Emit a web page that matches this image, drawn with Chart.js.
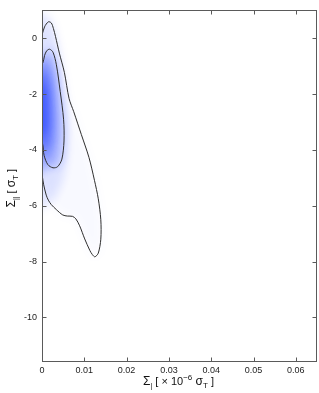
<!DOCTYPE html>
<html>
<head>
<meta charset="utf-8">
<script src="https://cdn.jsdelivr.net/npm/chart.js@4.4.1/dist/chart.umd.min.js"></script>
<style>
  html, body { margin: 0; padding: 0; background: #fff; }
  canvas { display: block; }
</style>
</head>
<body>
<canvas id="chart" width="319" height="393"></canvas>
<script>
// tick values
const xTicks = [0, 0.01, 0.02, 0.03, 0.04, 0.05, 0.06];
const yTicks = [-10, -8, -6, -4, -2, 0];

// contour lines, [x, y] pairs (points at x<0 get clipped by the axis)
const outerContour = [
  [-0.001, -0.2], [0.0, 0.12], [0.0006, 0.41], [0.0015, 0.59], [0.0022, 0.55],
  [0.0027, 0.35], [0.0032, 0.06], [0.0041, -0.53], [0.0053, -1.23], [0.0064, -2.16],
  [0.0075, -2.63], [0.0093, -3.45], [0.0111, -4.27], [0.0124, -5.09], [0.0133, -5.75],
  [0.0139, -6.5], [0.0139, -7.2], [0.0133, -7.7], [0.0125, -7.83], [0.0119, -7.75],
  [0.0113, -7.6], [0.0101, -7.19], [0.0089, -6.72], [0.0080, -6.47], [0.0072, -6.38],
  [0.0060, -6.37], [0.0049, -6.33], [0.0034, -6.14], [0.0022, -5.96], [0.0015, -5.8],
  [0.0010, -5.62], [0.0004, -5.25], [0.0001, -4.97], [-0.0002, -4.7], [-0.001, -4.4],
  [-0.001, -0.2]
];
const innerContour = [
  [-0.001, -1.1], [0.0002, -0.88], [0.0006, -0.62], [0.0011, -0.45], [0.0018, -0.39],
  [0.0026, -0.5], [0.0034, -0.95], [0.0043, -1.9], [0.0051, -2.9], [0.0052, -3.68],
  [0.0047, -4.33], [0.0037, -4.6], [0.0026, -4.64], [0.0014, -4.53], [0.0005, -4.2],
  [0.0001, -3.75], [-0.001, -3.4], [-0.001, -1.1]
];

// density shading, faint halo -> core
const halo = [
  [-0.002, 0.9], [0.001, 0.85], [0.003, 0.2], [0.0045, -1.0], [0.0058, -2.5],
  [0.006, -4.0], [0.005, -5.0], [0.003, -5.7], [0.001, -6.0], [-0.002, -6.1], [-0.002, 0.9]
];
const core1 = [
  [-0.002, -0.5], [0.0015, -0.75], [0.003, -1.5], [0.0035, -2.8], [0.003, -4.0],
  [0.0015, -4.6], [-0.002, -4.8], [-0.002, -0.5]
];
const core2 = [
  [-0.002, -1.1], [0.001, -1.25], [0.002, -2.0], [0.0022, -3.2], [0.0015, -3.9],
  [-0.002, -4.1], [-0.002, -1.1]
];
const core3 = [
  [-0.002, -1.6], [0.0005, -1.75], [0.0011, -2.5], [0.0009, -3.3], [-0.002, -3.5], [-0.002, -1.6]
];
const densityShapes = [outerContour, halo, innerContour, core1, core2, core3];
const densityWeights = [0.03, 0.12, 0.2, 0.3, 0.4, 0.45];

const toPoints = arr => arr.map(([x, y]) => ({ x, y }));

const datasets = [
  ...[innerContour, outerContour].map(c => ({
    kind: 'contour',
    data: toPoints(c),
    showLine: true,
    borderColor: '#2e2e2e',
    borderWidth: 1,
    pointRadius: 0,
    tension: 0.3,
    fill: false,
    order: 0,
  })),
  ...densityShapes.map((s, i) => ({
    kind: 'density',
    data: toPoints(s),
    showLine: true,
    borderWidth: 0,
    pointRadius: 0,
    tension: 0.35,
    fill: 'shape',
    backgroundColor: `rgba(25, 55, 255, ${densityWeights[i]})`,
    order: 1,
  })),
];

// soften the density polygons into a smooth gradient
const blurDensity = {
  id: 'blurDensity',
  beforeDatasetsDraw(chart) {
    chart.ctx.save();
    chart.ctx.filter = 'blur(5px)';
    this._on = true;
  },
  beforeDatasetDraw(chart, args) {
    if (this._on && chart.data.datasets[args.index].kind === 'contour') {
      chart.ctx.restore();
      this._on = false;
    }
  },
  afterDatasetsDraw(chart) {
    if (this._on) {
      chart.ctx.restore();
      this._on = false;
    }
  },
};

// box with inward ticks on all four sides
const frame = {
  id: 'frame',
  afterDatasetsDraw(chart) {
    const { ctx, chartArea: a, scales: { x, y } } = chart;
    const L = Math.round(a.left) + 0.5, R = Math.round(a.right) - 0.5;
    const T = Math.round(a.top) + 0.5, B = Math.round(a.bottom) - 0.5;
    ctx.save();
    ctx.strokeStyle = '#5a5a5a';
    ctx.lineWidth = 1;
    ctx.strokeRect(L, T, R - L, B - T);
    ctx.beginPath();
    xTicks.forEach(v => {
      const px = Math.round(x.getPixelForValue(v)) + 0.5;
      ctx.moveTo(px, B); ctx.lineTo(px, B - 4);
      ctx.moveTo(px, T); ctx.lineTo(px, T + 4);
    });
    yTicks.forEach(v => {
      const py = Math.round(y.getPixelForValue(v)) + 0.5;
      ctx.moveTo(L, py); ctx.lineTo(L + 4, py);
      ctx.moveTo(R, py); ctx.lineTo(R - 4, py);
    });
    ctx.stroke();
    ctx.restore();
  },
};

// axis titles with sub/superscripts
function drawRuns(ctx, runs, cx, baseline) {
  const font = s => `${s}px "Liberation Sans", Arial, sans-serif`;
  let total = 0;
  runs.forEach(([t, s]) => { ctx.font = font(s); total += ctx.measureText(t).width; });
  let px = cx - total / 2;
  runs.forEach(([t, s, dy]) => {
    ctx.font = font(s);
    ctx.fillText(t, px, baseline + dy);
    px += ctx.measureText(t).width;
  });
}

const axisTitles = {
  id: 'axisTitles',
  afterDraw(chart) {
    const { ctx, chartArea: a } = chart;
    ctx.save();
    ctx.fillStyle = '#111';
    ctx.textBaseline = 'alphabetic';
    drawRuns(ctx, [
      ['Σ', 12, 0], ['|', 7, 3], [' [ × 10', 11, 0], ['−6', 8, -5],
      [' σ', 12, 0], ['T', 8, 3], [' ]', 11, 0],
    ], (a.left + a.right) / 2 - 1, 385);
    ctx.translate(15, (a.top + a.bottom) / 2 + 2);
    ctx.rotate(-Math.PI / 2);
    drawRuns(ctx, [
      ['Σ', 12, 0], ['||', 7, 3], [' [ ', 11, 0], ['σ', 12, 0], ['T', 8, 3], [' ]', 11, 0],
    ], 0, 0);
    ctx.restore();
  },
};

const tickFont = { family: '"Liberation Sans", Arial, sans-serif', size: 9 };

new Chart(document.getElementById('chart'), {
  type: 'scatter',
  data: { datasets },
  plugins: [blurDensity, frame, axisTitles],
  options: {
    responsive: false,
    animation: false,
    events: [],
    layout: { padding: { top: 2, right: 2, left: 0, bottom: 0 } },
    plugins: { legend: { display: false }, tooltip: { enabled: false } },
    scales: {
      x: {
        type: 'linear',
        min: 0,
        max: 0.065,
        afterBuildTicks: s => { s.ticks = xTicks.map(v => ({ value: v })); },
        afterFit: s => { s.height = 31; },
        grid: { display: false, drawTicks: false },
        border: { display: false },
        ticks: {
          font: tickFont,
          color: '#222',
          padding: 3,
          maxRotation: 0,
          autoSkip: false,
          callback: v => (v === 0 ? '0' : v.toFixed(2)),
        },
      },
      y: {
        type: 'linear',
        min: -11.6,
        max: 1,
        afterBuildTicks: s => { s.ticks = yTicks.map(v => ({ value: v })); },
        afterFit: s => { s.width = 42; },
        grid: { display: false, drawTicks: false },
        border: { display: false },
        ticks: {
          font: tickFont,
          color: '#222',
          padding: 5,
          autoSkip: false,
          callback: v => String(v),
        },
      },
    },
  },
});
</script>
</body>
</html>
